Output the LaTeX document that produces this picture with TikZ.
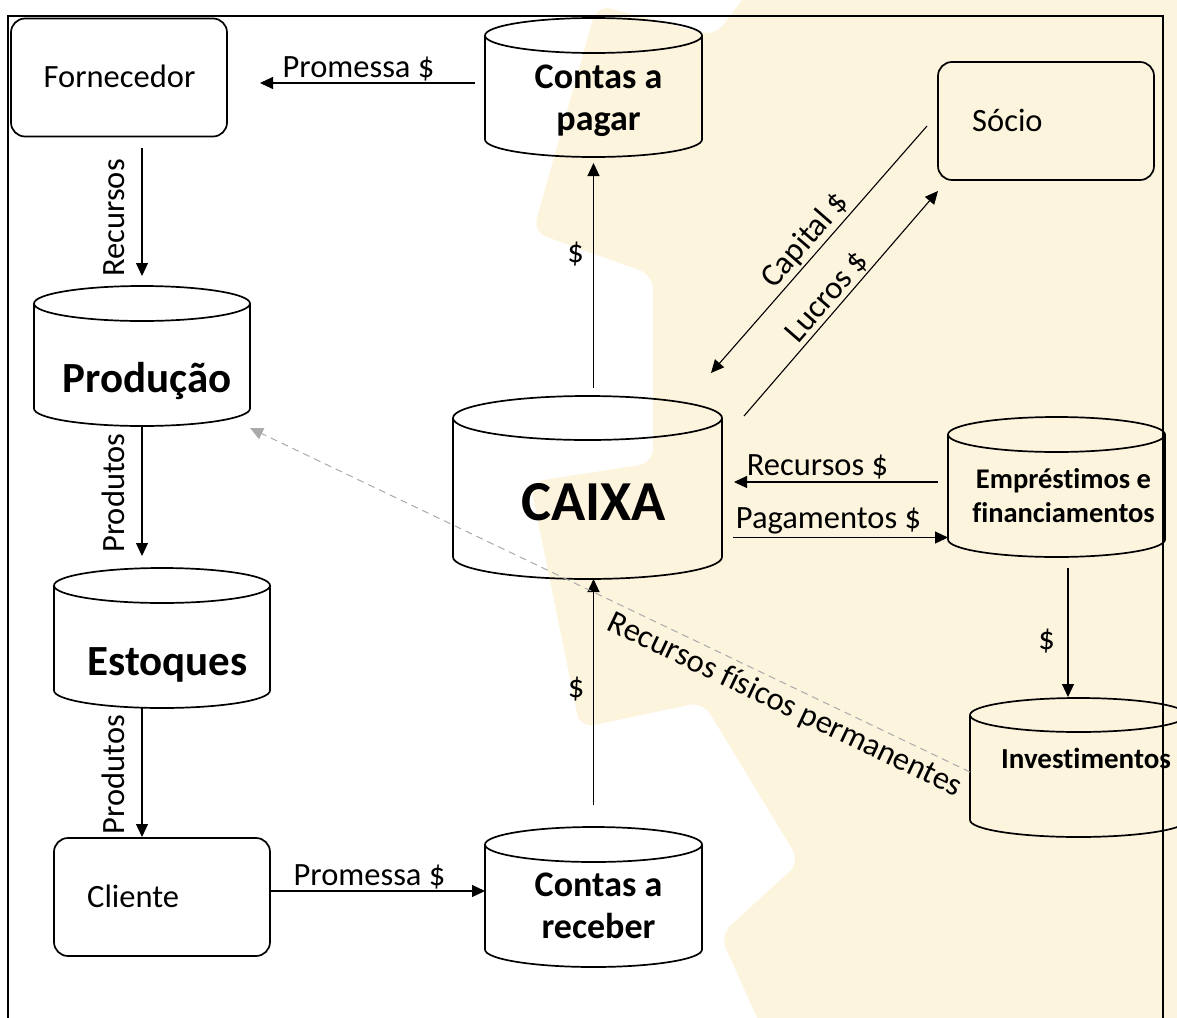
\documentclass[tikz,border=0pt]{standalone}
\usepackage{fontspec}
\setmainfont[Ligatures=NoCommon]{Carlito}
\usetikzlibrary{arrows.meta,calc}
\definecolor{cream}{RGB}{253,244,222}
\definecolor{dashgray}{RGB}{170,170,170}
\newcommand\drawcyl[3]{%
  \draw[shp] ($(#1.north)+(0,#3)$) ellipse[x radius=#2pt, y radius=#3pt];
  \draw[shp] ($(#1.north west)+(0,#3)$) -- ($(#1.south west)+(0,-#3)$)
     arc[start angle=180, end angle=360, x radius=#2pt, y radius=#3pt] -- ($(#1.north east)+(0,#3)$);}
\begin{document}
\begin{tikzpicture}[x=1pt, y=-1pt,
  shp/.style={draw=black, line width=1.7pt},
  rbox/.style={shp, rounded corners=14pt, minimum width=216pt, minimum height=118pt, inner sep=0pt, outer sep=0pt},
  cylbox/.style={inner sep=0pt, outer sep=0pt},
  conn/.style={draw=black, line width=1.1pt, -{Triangle[length=13pt,width=12pt]}},
  dashconn/.style={draw=dashgray, line width=1pt, dash pattern=on 7pt off 5pt, -{Triangle[length=13pt,width=12pt]}},
  lbl/.style={font=\fontsize{32.5}{38}\selectfont, inner sep=0pt, anchor=base},
  txt/.style={font=\fontsize{32.5}{38}\selectfont, inner sep=0pt},
  cyltxt/.style={font=\bfseries\fontsize{36}{42}\selectfont, align=center, inner sep=0pt, anchor=base},
  bigtxt/.style={font=\bfseries\fontsize{43}{48}\selectfont, inner sep=0pt, anchor=base},
  caixatxt/.style={font=\bfseries\fontsize{56.5}{60}\selectfont, inner sep=0pt, anchor=base},
  smalltxt/.style={font=\bfseries\fontsize{28.5}{34}\selectfont, align=center, inner sep=0pt, anchor=base},
  invtxt/.style={font=\bfseries\fontsize{29}{34}\selectfont, inner sep=0pt, anchor=base}
]
\useasboundingbox (0,0) rectangle (1177,1017);
% background gear
\fill[cream, rounded corners=14pt] (757,-20) -- (715,36) -- (597,5) -- (533,232) -- (653,275) -- (653,463)
  -- (530,482) -- (580,728) -- (703,702) -- (800,862) -- (720,935) -- (767,1040) -- (1210,1040) -- (1210,-20) -- cycle;
% frame
\draw[line width=2pt] (8,1030) -- (8,16) -- (1163,16) -- (1163,1030);

% boxes
\node[rbox] (forn) at (119,77.5) {};
\node[rbox] (socio) at (1046,121) {};
\node[rbox] (cli) at (162,897) {};
% cylinders
\node[cylbox, minimum width=217pt, minimum height=139pt] (cpag) at (593.5,87.5) {};
\node[cylbox, minimum width=216pt, minimum height=140pt] (prod) at (142,356) {};
\node[cylbox, minimum width=216pt, minimum height=140pt] (est) at (162,638) {};
\node[cylbox, minimum width=217pt, minimum height=140pt] (crec) at (593.5,897) {};
\node[cylbox, minimum width=269pt, minimum height=183pt] (caixa) at (587.5,487.5) {};
\node[cylbox, minimum width=217pt, minimum height=140pt] (emp) at (1056.5,487) {};
\node[cylbox, minimum width=217pt, minimum height=139pt] (inv) at (1078.5,767.5) {};
\drawcyl{cpag}{108.5}{17.5}
\drawcyl{prod}{108}{17.5}
\drawcyl{est}{108}{17.5}
\drawcyl{crec}{108.5}{17.5}
\drawcyl{caixa}{134.5}{22}
\drawcyl{emp}{108.5}{17.5}
\drawcyl{inv}{108.5}{17}

% node texts
\node[txt, anchor=base] (forn-t) at (119.5,87) {Fornecedor};
\node[txt, anchor=base west] (socio-t) at (972,131) {Sócio};
\node[txt, anchor=base west] (cli-t) at (87,907) {Cliente};
\node[cyltxt] (cpag-t) at (598.5,130) {Contas a\\pagar};
\node[cyltxt] (crec-t) at (598.5,938) {Contas a\\receber};
\node[bigtxt] (prod-t) at (147,392) {Produção};
\node[bigtxt] (est-t) at (167.5,675) {Estoques};
\node[caixatxt] (caixa-t) at (593.5,520) {CAIXA};
\node[smalltxt] (emp-t) at (1063.5,522) {Empréstimos e\\financiamentos};
\node[invtxt] (inv-t) at (1086,768) {Investimentos};

% connectors
\draw[conn, shorten <=10pt, shorten >=33pt] ([yshift=4.5pt]cpag.west) -- ([yshift=4.5pt]cpag.west -| forn.east);
\draw[conn, shorten <=11pt, shorten >=10pt] (prod.north |- forn.south) -- (prod.north);
\draw[conn, shorten >=12pt] (prod.south) -- (prod.south |- est.north);
\draw[conn, shorten >=1pt] (prod.south |- est.south) -- (prod.south |- cli.north);
\draw[conn] ([yshift=6pt]cli.east) -- ([yshift=6pt]crec.west);
\draw[conn, shorten <=22pt] (crec.north) -- (crec.north |- caixa.south);
\draw[conn, shorten <=8pt, shorten >=6pt] (cpag.south |- caixa.north) -- (cpag.south);
\coordinate (capS) at ($(socio.west)+(-11,5)$);
\coordinate (capE) at ($(caixa.north east)+(-11,-23)$);
\draw[conn] (capS) -- (capE);
\coordinate (lucS) at ($(caixa.north east)+(22,20)$);
\coordinate (lucE) at ($(socio.south west)+(0,11)$);
\draw[conn] (lucS) -- (lucE);
\draw[conn, shorten <=10pt, shorten >=12pt] ([yshift=5pt]emp.west) -- ([yshift=5pt]emp.west -| caixa.east);
\draw[conn, shorten <=11pt] ([yshift=-50pt]caixa.east) -- ([yshift=-50pt]caixa.east -| emp.west);
\draw[conn, shorten <=11pt, shorten >=1pt] ([xshift=11.5pt]emp.south) -- ([xshift=11.5pt]emp.south |- inv.north);
\draw[dashconn] ([yshift=-4.5pt]inv.west) -- ([yshift=-2pt]prod.south east);

% labels
\node[lbl] (l1) at (358.5,77) {Promessa \$};
\node[lbl, rotate=90] (l2) at (124,218) {Recursos};
\node[lbl, rotate=90] (l3) at (124,493) {Produtos};
\node[lbl, rotate=90] (l4) at (124,774.5) {Produtos};
\node[lbl] (l5) at (369.5,885) {Promessa \$};
\node[lbl] (l6) at (575.5,262) {\$};
\node[lbl] (l7) at (576,697) {\$};
\node[lbl, rotate=49] (l8) at (812,246) {Capital \$};
\node[lbl, rotate=49] (l9) at (834,303) {Lucros \$};
\node[lbl] (l10) at (817.5,475) {Recursos \$};
\node[lbl] (l11) at (828.5,528) {Pagamentos \$};
\node[lbl] (l12) at (1046.5,649) {\$};
\node[lbl, rotate=-25.5] (l13) at (781,713) {Recursos físicos permanentes};
\end{tikzpicture}
\end{document}
